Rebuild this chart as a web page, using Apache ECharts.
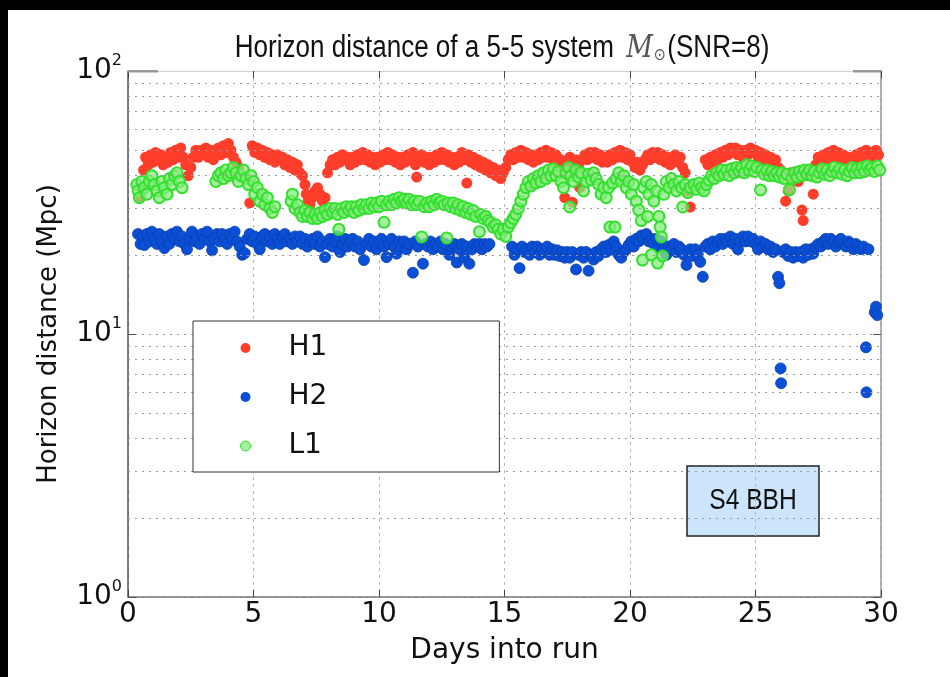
<!DOCTYPE html>
<html>
<head>
<meta charset="utf-8">
<script src="https://cdn.jsdelivr.net/npm/echarts@6/dist/echarts.min.js"></script>
<style>
  html, body { margin: 0; padding: 0; background: #000; width: 950px; height: 677px; overflow: hidden; }
  #chart { position: absolute; left: 8px; top: 10px; width: 942px; height: 667px; background: #fff; }
</style>
</head>
<body>
<div id="chart"></div>
<script>
// Horizon distance (Mpc) of each detector vs. days into the S4 run
const seriesNames = ['H1', 'H2', 'L1'];
const xTicks = { min: 0, max: 30, step: 5 };
const yDecades = { min: 1, max: 100 };
const minorGridValues = [2, 3, 4, 5, 6, 7, 8, 9, 20, 30, 40, 50, 60, 70, 80, 90];

const h1Points = [
  [0.50,33],[0.55,36],[0.62,42],[0.70,47],[0.80,44],[0.90,48],[1.00,45],[1.10,49],[1.20,46],[1.30,48],
  [1.40,44],[1.50,47],[1.60,45],[1.70,49],[1.80,46],[1.90,50],[2.00,47],[2.10,51],[2.20,47],[2.30,44],
  [2.40,40],[2.50,43],[2.60,47],[2.70,50],[2.80,47],[2.90,50],[3.00,48],[3.10,51],[3.20,47],[3.30,50],
  [3.40,46],[3.50,49],[3.60,51],[3.70,48],[3.80,52],[3.90,49],[4.00,53],[4.10,50],[4.20,47],[4.30,45],
  [4.40,43],[4.85,31.5],[4.95,52],[5.05,49],[5.15,51],[5.25,48],[5.35,50],[5.45,47],[5.55,49],[5.65,46],
  [5.75,48],[5.85,45],[5.95,48],[6.05,46],[6.15,47],[6.25,44],[6.35,46],[6.45,43],[6.55,45],[6.65,42],
  [6.75,44],[6.85,41],[6.95,40],[7.05,37],[7.10,34],[7.18,32],[7.25,31],[7.35,33],[7.45,35],[7.55,36],
  [7.65,34],[7.75,32],[7.85,33],[7.95,41],[8.05,44],[8.15,46],[8.25,44],[8.35,47],[8.45,45],[8.55,48],
  [8.65,46],[8.75,47],[8.85,44],[8.95,47],[9.05,45],[9.15,48],[9.25,46],[9.35,49],[9.45,46],[9.55,48],
  [9.65,45],[9.75,47],[9.85,44],[9.95,47],[10.05,45],[10.15,48],[10.25,46],[10.35,49],[10.45,46],[10.55,48],
  [10.65,45],[10.75,47],[10.85,44],[10.95,47],[11.05,45],[11.15,48],[11.25,46],[11.35,49],[11.45,44],[11.50,39.5],
  [11.60,46],[11.70,48],[11.80,45],[11.90,47],[12.00,44],[12.10,47],[12.20,45],[12.30,48],[12.40,46],[12.50,49],
  [12.60,46],[12.70,48],[12.80,45],[12.90,47],[13.00,44],[13.10,47],[13.20,45],[13.30,49],[13.40,46],[13.50,37.5],
  [13.55,48],[13.65,45],[13.75,47],[13.85,44],[13.95,46],[14.05,43],[14.15,45],[14.25,42],[14.35,44],[14.45,41],
  [14.55,43],[14.65,40],[14.75,42],[14.85,39],[14.95,41],[15.05,43],[15.15,46],[15.25,48],[15.35,46],[15.45,49],
  [15.55,47],[15.65,50],[15.75,47],[15.85,49],[15.95,46],[16.05,48],[16.15,45],[16.25,48],[16.35,46],[16.45,49],
  [16.55,47],[16.65,50],[16.75,47],[16.85,49],[16.95,46],[17.05,48],[17.15,44],[17.25,46],[17.35,43],[17.40,33],
  [17.50,45],[17.60,47],[17.70,31.7],[17.75,44],[17.85,46],[17.95,43],[18.00,36],[18.10,46],[18.20,48],[18.30,46],
  [18.40,49],[18.50,47],[18.60,49],[18.70,46],[18.80,48],[18.90,45],[19.00,47],[19.10,45],[19.20,48],[19.30,46],
  [19.40,49],[19.50,47],[19.60,50],[19.70,47],[19.80,49],[19.90,46],[20.00,48],[20.10,45],[20.20,43],[20.30,45],
  [20.40,42],[20.50,44],[20.60,46],[20.70,48],[20.80,46],[20.90,49],[21.00,47],[21.10,49],[21.20,46],[21.30,48],
  [21.40,45],[21.50,47],[21.60,44],[21.70,46],[21.80,48],[21.90,45],[22.00,47],[22.10,43],[22.20,41],[22.30,35],
  [22.40,30.4],[23.00,46],[23.10,44],[23.20,47],[23.30,45],[23.40,48],[23.50,46],[23.60,49],[23.70,47],[23.80,50],
  [23.90,48],[24.00,51],[24.10,49],[24.20,51],[24.30,48],[24.40,50],[24.50,47],[24.60,50],[24.70,48],[24.80,51],
  [24.90,49],[25.00,50],[25.10,47],[25.20,49],[25.30,46],[25.40,48],[25.50,45],[25.60,47],[25.70,44],[25.80,46],
  [25.90,43],[26.00,42],[26.10,40],[26.20,32],[26.30,35],[26.40,41],[26.50,39],[26.60,41],[26.70,38],[26.85,29.6],
  [26.90,27],[27.00,40],[27.10,42],[27.30,34],[27.40,44],[27.50,47],[27.60,45],[27.70,48],[27.80,46],[27.90,49],
  [28.00,47],[28.10,50],[28.20,47],[28.30,49],[28.40,46],[28.50,48],[28.60,45],[28.70,47],[28.80,44],[28.90,46],
  [29.00,48],[29.10,46],[29.20,49],[29.30,47],[29.40,50],[29.50,48],[29.60,49],[29.70,47],[29.80,50],[29.90,48]
];

const h2Points = [
  [0.40,24],[0.50,22],[0.60,23.5],[0.65,21.8],[0.75,24],[0.85,22.5],[0.95,24.5],[1.05,23],[1.15,22],[1.25,24],
  [1.35,22.5],[1.45,21.2],[1.55,23.5],[1.65,22],[1.75,24],[1.85,23],[1.95,24.5],[2.05,22.5],[2.15,23.5],[2.25,22],
  [2.35,21],[2.45,23],[2.55,24.5],[2.65,22.5],[2.75,23.5],[2.85,22],[2.95,24],[3.05,23],[3.15,24.5],[3.25,22.5],
  [3.35,20.8],[3.45,23],[3.55,24],[3.65,22.5],[3.75,24],[3.85,23],[3.95,22],[4.05,24],[4.15,23],[4.25,24.5],
  [4.35,22.5],[4.45,21.5],[4.55,20],[4.65,20.3],[4.75,23],[4.85,24],[4.95,22.5],[5.05,23.5],[5.15,22],[5.25,21],
  [5.35,23.5],[5.45,24],[5.55,22.5],[5.65,23.5],[5.75,22],[5.85,24],[5.95,23],[6.05,22],[6.15,23.5],[6.25,24],
  [6.35,22.5],[6.45,23],[6.55,22],[6.65,23.5],[6.75,22.5],[6.85,23.5],[6.95,22],[7.05,23],[7.15,21.5],[7.25,22.5],
  [7.35,23],[7.45,22],[7.55,23.5],[7.65,21.5],[7.75,22.5],[7.85,19.6],[7.95,22],[8.05,23],[8.15,21.5],[8.25,22.5],
  [8.35,23.5],[8.45,20.5],[8.55,22],[8.65,23],[8.75,21.5],[8.85,22.5],[8.95,23],[9.05,21.5],[9.15,22.5],[9.25,21],
  [9.40,19.1],[9.50,22],[9.60,23],[9.70,21.5],[9.80,22.5],[9.90,21],[10.00,22.5],[10.10,23],[10.20,21.5],[10.30,19.6],
  [10.40,22],[10.50,23],[10.60,21.5],[10.70,20.2],[10.80,22.5],[10.90,21.5],[11.00,22.5],[11.10,21],[11.20,22],[11.35,17.1],
  [11.45,22.5],[11.55,21.5],[11.75,18.5],[11.85,22],[11.95,21.5],[12.05,22.5],[12.15,21],[12.25,22],[12.35,21.5],[12.45,22.5],
  [12.55,21],[12.65,22],[12.80,20],[12.90,21.5],[13.00,22],[13.10,18.7],[13.20,21],[13.30,22],[13.40,19.5],[13.50,21.5],
  [13.60,18.5],[13.70,21],[13.80,22],[13.90,21.5],[14.00,22],[14.10,21],[14.20,22],[14.30,21.5],[14.40,22],
  [15.30,21.5],[15.40,20],[15.50,21],[15.60,17.8],[15.70,21.5],[15.80,20.5],[15.90,21],[16.00,20],[16.10,21.5],[16.20,20.5],
  [16.30,21.5],[16.40,20],[16.50,21],[16.60,20.5],[16.70,21.5],[16.80,20],[16.90,21],[17.00,20],[17.10,20.8],[17.20,19.8],
  [17.30,20.5],[17.40,19.5],[17.50,20.5],[17.60,19.5],[17.70,20.5],[17.85,17.6],[17.95,20],[18.05,20.5],[18.15,19.5],[18.25,20.5],
  [18.35,17.4],[18.45,20],[18.55,19.2],[18.65,20.5],[18.75,19.8],[18.85,21],[18.95,21.5],[19.05,20.5],[19.15,21.8],[19.25,21],
  [19.35,22.5],[19.45,21.5],[19.55,20],[19.65,19.5],[19.75,20.5],[19.85,21],[19.95,21.8],[20.05,22.5],[20.15,21.5],[20.25,23],
  [20.35,22.5],[20.45,23.7],[20.55,23],[20.65,24],[20.75,22.5],[20.85,23],[20.95,22],[21.05,23],[21.15,21.5],[21.25,22.5],
  [21.35,21],[21.45,20],[21.55,21.5],[21.65,21],[21.75,22],[21.85,20.5],[21.95,21.5],[22.05,21],[22.15,20],[22.25,18.3],
  [22.40,21],[22.50,19.8],[22.60,21],[22.70,20],[22.80,18.8],[22.90,16.5],[23.00,21.5],[23.10,22],[23.20,21],[23.30,22.5],
  [23.40,21.5],[23.50,22.5],[23.60,23],[23.70,22],[23.80,23],[23.90,22.5],[24.00,23.5],[24.10,22],[24.20,23],[24.30,21],
  [24.40,22.5],[24.50,23.5],[24.60,22.5],[24.70,23.5],[24.80,22.5],[24.90,23],[25.00,22],[25.10,21],[25.20,22.5],[25.30,21.5],
  [25.40,22],[25.50,21],[25.60,21.5],[25.70,20.5],[25.80,21],[25.90,16.5],[25.95,15.6],[26.00,7.4],[26.02,6.5],[26.10,20.5],
  [26.20,21],[26.30,19.8],[26.40,20.5],[26.50,19.5],[26.60,20.5],[26.70,19.8],[26.80,20.5],[26.90,19.5],[27.00,21],[27.10,20],
  [27.20,21],[27.30,20.2],[27.40,21.5],[27.50,22],[27.60,21.5],[27.70,22.5],[27.80,23],[27.90,22],[28.00,23],[28.10,22.5],
  [28.20,21.5],[28.30,22.5],[28.40,23],[28.50,22],[28.60,21.5],[28.70,22.5],[28.80,22],[28.90,21],[29.00,22],[29.10,21.5],
  [29.20,21],[29.30,21.5],[29.40,8.9],[29.42,6.0],[29.50,21],[29.75,12.1],[29.80,12.7],[29.85,11.8]
];

const l1Points = [
  [0.35,37],[0.40,35],[0.45,33],[0.55,38],[0.65,36],[0.75,34],[0.85,38],[0.95,40],[1.05,37],[1.15,35],
  [1.25,33],[1.35,38],[1.45,36],[1.55,34],[1.65,39],[1.75,37],[1.85,40],[1.95,41],[2.05,38],[2.15,36],
  [3.50,38],[3.60,40],[3.70,41],[3.80,39],[3.90,42],[4.00,40],[4.10,41],[4.20,43],[4.30,41],[4.40,38],
  [4.50,40],[4.60,42],[4.70,39],[4.80,37],[4.90,40],[5.00,38],[5.05,34],[5.15,36],[5.25,32],[5.35,34],
  [5.45,31],[5.55,33],[5.65,30],[5.75,29],[5.85,30.5],
  [6.50,32],[6.55,34],[6.65,30],[6.75,31],[6.85,29],[6.95,28],[7.05,29.5],[7.15,28],[7.25,29],[7.35,27.5],
  [7.45,28.5],[7.55,27.5],[7.65,29],[7.75,28],[7.85,29.5],[7.95,28.5],[8.05,30],[8.15,29],[8.25,30],[8.35,28.5],
  [8.40,25],[8.50,30],[8.60,29],[8.70,30.5],[8.80,29.5],[8.90,30.5],[9.00,29],[9.10,30.5],[9.20,29.5],[9.30,31],
  [9.40,30],[9.50,31],[9.60,30],[9.70,31.5],[9.80,30.5],[9.90,31.5],[10.00,30.5],[10.10,32],[10.20,26.6],[10.30,31],
  [10.40,32],[10.50,31],[10.60,32.5],[10.70,31.5],[10.80,33],[10.90,32],[11.00,32.5],[11.10,31.5],[11.20,32.5],[11.30,31],
  [11.40,32],[11.50,31],[11.60,32],[11.70,23.4],[11.80,30.5],[11.90,31.5],[12.00,30.5],[12.10,32],[12.20,31],[12.30,32.5],
  [12.40,31.5],[12.50,32],[12.60,31],[12.70,23.2],[12.75,31.5],[12.85,30.5],[12.95,31.5],[13.05,30],[13.15,31],[13.25,29.5],
  [13.35,30.5],[13.45,29],[13.55,30],[13.65,28.5],[13.75,29.5],[13.85,28],[14.00,24.5],[14.05,28.5],[14.15,27.5],[14.25,28],
  [14.35,27],[14.45,26.5],[14.55,25.5],[14.65,26],[14.75,25],[14.85,24],[14.95,25],[15.05,23.5],[15.15,25.5],[15.25,26.5],
  [15.35,27.5],[15.45,28.5],[15.55,30],[15.65,32],[15.75,34],[15.85,36],[15.95,38],[16.05,36.5],[16.15,39],[16.25,37.5],
  [16.35,40],[16.45,38],[16.55,41],[16.65,39],[16.75,42],[16.85,40],[16.95,42.5],[17.05,40],[17.15,41.5],[17.25,38],
  [17.35,36],[17.45,41],[17.55,43],[17.60,30.4],[17.65,40],[17.75,38],[17.85,42],[17.95,39.5],[18.05,41],[18.15,35],
  [18.25,38],[18.35,40.5],[18.45,38.5],[18.55,41],[18.65,39],[18.75,37],[18.85,34],[18.95,36],[19.05,33],[19.15,36],
  [19.20,25.5],[19.30,37.5],[19.40,25.5],[19.45,39],[19.55,41],[19.65,38],[19.75,40],[19.85,36],[19.95,38],[20.05,34],
  [20.15,37],[20.25,32],[20.35,29.6],[20.45,27],[20.50,19.1],[20.55,36],[20.65,38],[20.70,28],[20.75,34],[20.85,37],
  [20.85,20],[20.95,32],[21.05,35],[21.10,18.6],[21.15,28],[21.20,25.5],[21.25,23.4],[21.30,19.8],[21.35,34],[21.45,38],
  [21.55,36],[21.65,39],[21.75,37],[21.85,35],[21.95,38],[22.05,36],[22.10,30.4],[22.20,37],[22.30,34.5],[22.40,36],
  [22.55,37],[22.65,35.5],[22.75,37.5],[22.85,36],[22.95,35],[23.05,37],[23.15,38.5],[23.25,40],[23.35,39],[23.45,41],
  [23.55,40],[23.65,42],[23.75,40.5],[23.85,42],[23.95,40],[24.05,42.5],[24.15,41],[24.25,43],[24.35,41.5],[24.45,43],
  [24.55,41],[24.65,44],[24.75,42],[24.85,43.5],[24.95,41.5],[25.05,43],[25.20,35.3],[25.25,42],[25.35,40.5],[25.45,42],
  [25.55,40],[25.65,41.5],[25.75,40],[25.85,41],[25.95,39.5],[26.05,41],[26.15,39],[26.25,40.5],[26.35,35.3],[26.45,39],
  [26.55,41],[26.65,39.5],[26.75,41.5],[26.85,40],[26.95,42],[27.05,40.5],[27.15,42],[27.25,40],[27.35,41.5],[27.45,39.5],
  [27.55,41],[27.65,42.5],[27.75,40.5],[27.85,42],[27.95,40],[28.05,41.5],[28.15,43],[28.25,41],[28.35,42.5],[28.45,40.5],
  [28.55,42],[28.65,40],[28.75,41.5],[28.85,43],[28.95,41],[29.05,42.5],[29.15,41],[29.25,43],[29.35,41.5],[29.45,43.5],
  [29.55,42],[29.65,43],[29.75,41.5],[29.85,43.5],[29.95,42]
];

const titleParts = { lead: 'Horizon distance of a 5-5 system ', mass: 'M', sun: '⊙', tail: '(SNR=8)' };
const runLabel = 'S4 BBH';

const sansFont = "'DejaVu Sans', 'Liberation Sans', sans-serif";
const plainFont = "'Liberation Sans', Arial, sans-serif";

const chart = echarts.init(document.getElementById('chart'), null, { renderer: 'canvas' });

const gridBox = { left: 120, top: 61, width: 753, height: 526 };
const dotted = { color: '#9a9a9a', type: [2, 5], width: 1 };

const option = {
  animation: false,
  backgroundColor: '#fff',
  grid: gridBox,
  legend: {
    data: [
      { name: 'H1', itemStyle: { borderWidth: 0 } },
      { name: 'H2', itemStyle: { borderWidth: 0 } },
      { name: 'L1', itemStyle: { borderWidth: 1 } }
    ],
    orient: 'vertical',
    left: 185, top: 311,
    backgroundColor: '#fff',
    borderColor: '#333', borderWidth: 1,
    padding: [13, 172, 12, 47],
    itemGap: 21,
    itemWidth: 10, itemHeight: 10,
    textStyle: { fontSize: 28, fontFamily: sansFont, color: '#111', padding: [0, 0, 0, 33] },
    z: 10
  },
  xAxis: [
    {
      type: 'value', min: xTicks.min, max: xTicks.max, interval: xTicks.step, position: 'bottom',
      axisLine: { show: true, onZero: false, lineStyle: { color: '#777', width: 1.5 } },
      axisTick: { show: true, inside: true, length: 7, lineStyle: { color: '#444' } },
      axisLabel: { fontSize: 28, fontFamily: sansFont, color: '#111', margin: 4 },
      splitLine: { show: true, lineStyle: { color: '#b5b5b5', type: [3, 4], width: 1 } },
      name: 'Days into run', nameLocation: 'middle', nameGap: 40,
      nameTextStyle: { fontSize: 28, fontFamily: sansFont, color: '#111' }
    },
    {
      type: 'value', min: xTicks.min, max: xTicks.max, interval: xTicks.step, position: 'top',
      axisLine: { show: true, onZero: false, lineStyle: { color: '#cfcfcf', width: 1 } },
      axisTick: { show: true, inside: true, length: 7, lineStyle: { color: '#444' } },
      axisLabel: { show: false }, splitLine: { show: false }
    }
  ],
  yAxis: [
    {
      type: 'log', logBase: 10, min: yDecades.min, max: yDecades.max, position: 'left',
      axisLine: { show: true, onZero: false, lineStyle: { color: '#555', width: 1.5 } },
      axisTick: { show: true, inside: true, length: 8, lineStyle: { color: '#555' } },
      axisLabel: {
        margin: 6,
        formatter: v => '{b|10}{s|' + Math.round(Math.log10(v)) + '}',
        rich: {
          b: { fontSize: 28, fontFamily: sansFont, color: '#111', verticalAlign: 'bottom', lineHeight: 28 },
          s: { fontSize: 16, fontFamily: sansFont, color: '#111', verticalAlign: 'bottom', lineHeight: 16, padding: [0, 0, 16, 0] }
        }
      },
      splitLine: { show: true, lineStyle: dotted },
      name: 'Horizon distance (Mpc)', nameLocation: 'middle', nameGap: 66,
      nameTextStyle: { fontSize: 26, fontFamily: sansFont, color: '#111' }
    },
    {
      type: 'log', logBase: 10, min: yDecades.min, max: yDecades.max, position: 'right',
      axisLine: { show: true, onZero: false, lineStyle: { color: '#999', width: 1.5 } },
      axisTick: { show: true, inside: true, length: 8, lineStyle: { color: '#555' } },
      axisLabel: { show: false }, splitLine: { show: false }
    }
  ],
  series: [
    {
      name: 'minor-grid', type: 'scatter', data: [], z: 1, silent: true,
      markLine: {
        silent: true, symbol: 'none', label: { show: false }, animation: false,
        lineStyle: dotted,
        data: minorGridValues.map(v => ({ yAxis: v }))
      }
    },
    {
      name: 'H1', type: 'scatter', data: h1Points, symbolSize: 11, z: 3,
      itemStyle: { color: '#ff3d2b', opacity: 1 }
    },
    {
      name: 'H2', type: 'scatter', data: h2Points, symbolSize: 11, z: 3,
      itemStyle: { color: '#0a4fd6', borderColor: '#0a3fa8', borderWidth: 0.8, opacity: 1 }
    },
    {
      name: 'L1', type: 'scatter', data: l1Points, symbolSize: 11, z: 4,
      itemStyle: { color: 'rgba(135,235,125,0.75)', borderColor: '#33e02e', borderWidth: 2, opacity: 1 }
    }
  ],
  graphic: [
    {
      type: 'text', x: 494, y: 37, scaleX: 0.84, z: 10,
      style: {
        text: '{a|' + titleParts.lead + '}{m|' + titleParts.mass + '}{o|' + titleParts.sun + '}{a|' + titleParts.tail + '}',
        align: 'center', verticalAlign: 'middle',
        rich: {
          a: { fontSize: 31, fontFamily: plainFont, fill: '#111', verticalAlign: 'bottom', lineHeight: 34 },
          m: { fontSize: 31, fontFamily: "'DejaVu Serif', 'Liberation Serif', serif", fontStyle: 'italic', fill: '#555', verticalAlign: 'bottom', lineHeight: 34, padding: [0, 1, 0, 6] },
          o: { fontSize: 17, fontFamily: "'DejaVu Sans', sans-serif", fill: '#555', verticalAlign: 'bottom', lineHeight: 17, padding: [0, 2, 0, 0] }
        }
      }
    },
    {
      type: 'group', x: 679, y: 456, z: 10,
      children: [
        { type: 'rect', shape: { x: 0, y: 0, width: 132, height: 70 }, style: { fill: '#cde5fb', stroke: '#222', lineWidth: 1.5 } },
        { type: 'text', x: 66, y: 35, scaleX: 0.82, style: { text: runLabel, fontSize: 30, fontFamily: plainFont, fill: '#111', align: 'center', verticalAlign: 'middle' } }
      ]
    },
    { type: 'rect', x: 120, y: 60, z: 5, shape: { width: 30, height: 2.5 }, style: { fill: '#999' } },
    { type: 'rect', x: 845, y: 60, z: 5, shape: { width: 28, height: 2.5 }, style: { fill: '#999' } }
  ]
};

chart.setOption(option);
</script>
</body>
</html>
